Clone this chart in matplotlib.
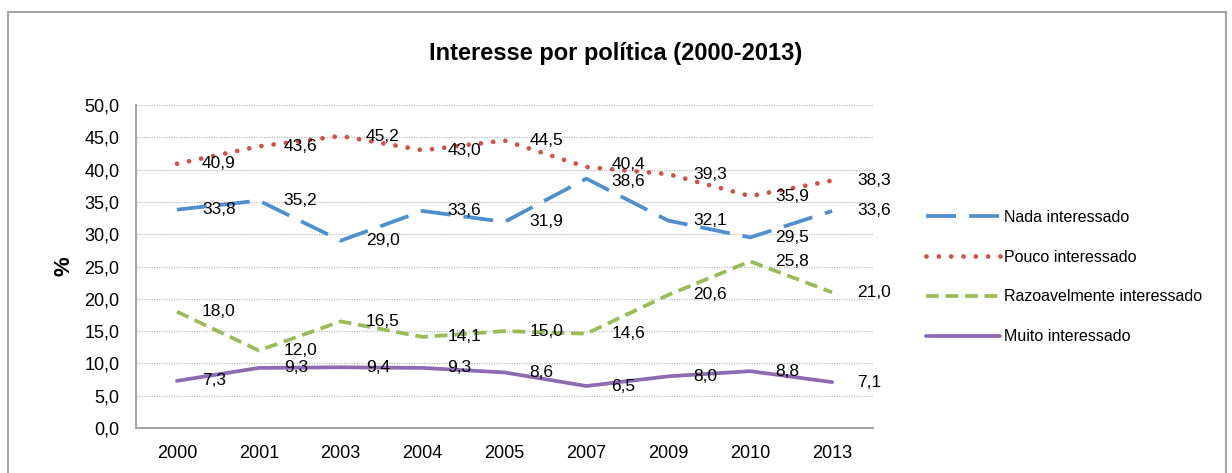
import matplotlib
matplotlib.use('Agg')
import matplotlib.pyplot as plt
from matplotlib.patches import Rectangle

plt.rcParams['font.family'] = ['Liberation Sans', 'DejaVu Sans']

# dados
anos = ['2000', '2001', '2003', '2004', '2005', '2007', '2009', '2010', '2013']
nada = [33.8, 35.2, 29.0, 33.6, 31.9, 38.6, 32.1, 29.5, 33.6]
pouco = [40.9, 43.6, 45.2, 43.0, 44.5, 40.4, 39.3, 35.9, 38.3]
razoavel = [18.0, 12.0, 16.5, 14.1, 15.0, 14.6, 20.6, 25.8, 21.0]
muito = [7.3, 9.3, 9.4, 9.3, 8.6, 6.5, 8.0, 8.8, 7.1]
nomes = ['Nada interessado', 'Pouco interessado',
         'Razoavelmente interessado', 'Muito interessado']

fig = plt.figure(figsize=(12.32, 4.73), dpi=100)
ax = fig.add_axes([136/1232, 1 - 428/473, (873 - 136)/1232, (428 - 105)/473])

# moldura externa
fig.patches.append(Rectangle((8/1232, -0.1), (1226 - 8)/1232, 1.1 - 12/473,
                             transform=fig.transFigure, fill=False,
                             edgecolor='#a6a6a6', lw=1.5))

x = range(len(anos))
series = [
    (nada, '#4f8fd0', 2.7, (0, (8.0, 3.5)), 'butt', -2),
    (pouco, '#d0504a', 3.4, (0, (0.01, 2.6)), 'round', 2),
    (razoavel, '#9bbb59', 2.7, (0, (3.4, 1.8)), 'butt', 0),
    (muito, '#8c6bb1', 2.7, '-', 'round', 0),
]
for (vals, cor, lw, estilo, cap, dy), nome in zip(series, nomes):
    ln, = ax.plot(x, vals, color=cor, lw=lw, linestyle=estilo, label=nome)
    ln.set_dash_capstyle(cap)
    ln.set_solid_capstyle('round')
    for xi, v in zip(x, vals):
        # 2007: rótulos de Nada e Pouco ficam muito próximos
        off = dy if xi == 5 else 0
        ax.annotate(f'{v:.1f}'.replace('.', ','), (xi, v), xytext=(18, off),
                    textcoords='offset points', ha='left', va='center',
                    fontsize=12.5)

ax.set_xlim(-0.5, len(anos) - 0.5)
ax.set_ylim(0, 50)
ax.set_yticks(range(0, 51, 5))
ax.set_yticklabels([f'{v:.1f}'.replace('.', ',') for v in range(0, 51, 5)])
ax.set_xticks(list(x))
ax.set_xticklabels(anos)
ax.tick_params(axis='both', length=0, labelsize=13)
ax.tick_params(axis='y', pad=12)
ax.tick_params(axis='x', pad=12)
ax.yaxis.grid(True, color='#bfbfbf', linestyle=(0, (1, 1)), lw=0.9)
ax.set_axisbelow(True)
for s in ['top', 'right']:
    ax.spines[s].set_visible(False)
for s in ['left', 'bottom']:
    ax.spines[s].set_color('#a6a6a6')
    ax.spines[s].set_linewidth(1.5)

ax.set_ylabel('%', fontsize=16, fontweight='bold', labelpad=7)
fig.text(0.5, 1 - 53/473, 'Interesse por política (2000-2013)',
         ha='center', va='center', fontsize=17, fontweight='bold')

leg = ax.legend(loc='center left', bbox_to_anchor=(912/1232, 1 - 277/473),
                bbox_transform=fig.transFigure, frameon=False, fontsize=11.5,
                handlelength=4.6, handletextpad=0.25, labelspacing=1.55)

fig.savefig('out.png', dpi=100)
